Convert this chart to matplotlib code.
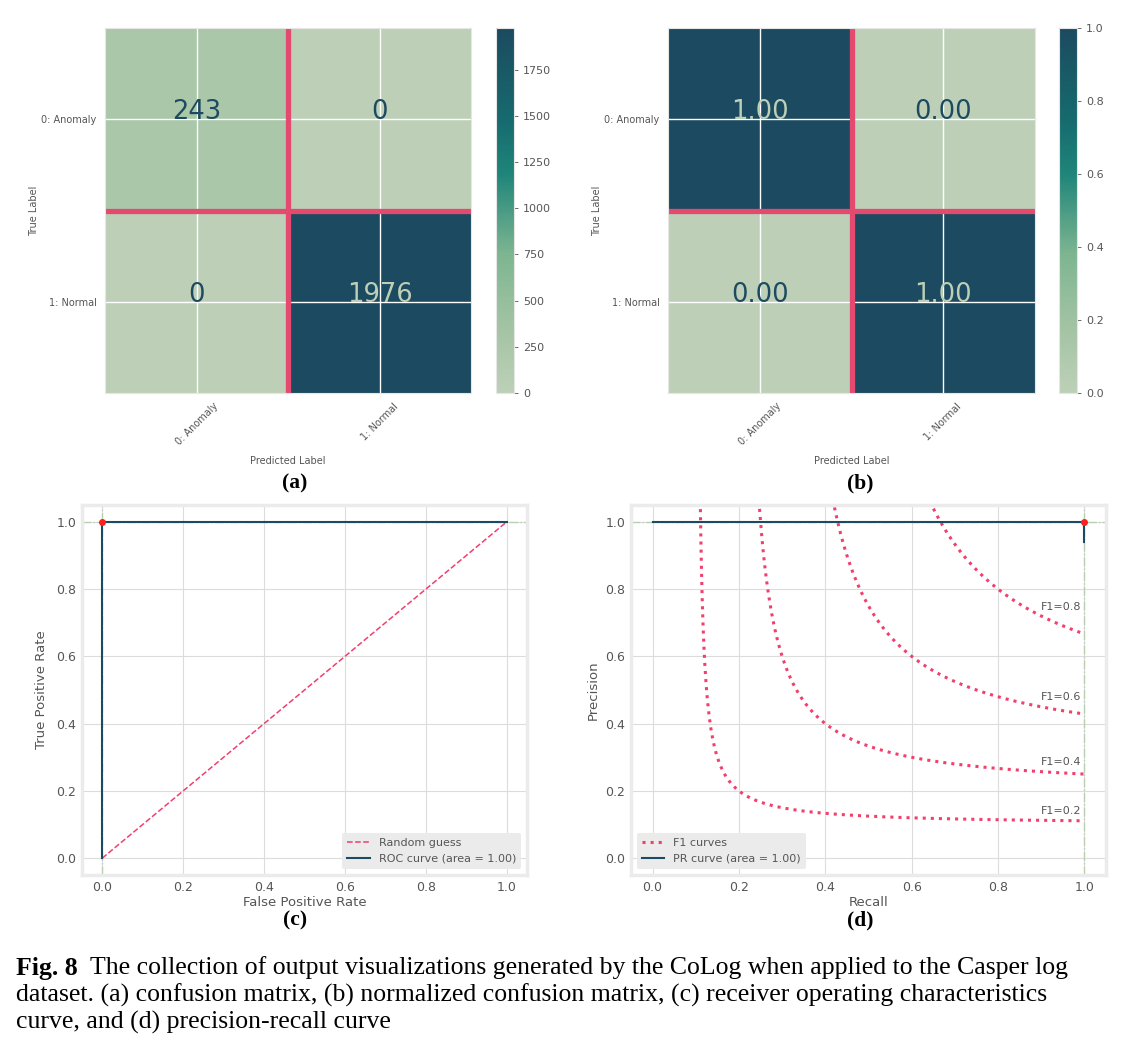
import matplotlib
matplotlib.use("Agg")
import matplotlib.pyplot as plt
import numpy as np
from matplotlib.colors import LinearSegmentedColormap

# values
classes = ["0: Anomaly", "1: Normal"]
cm_counts = np.array([[243, 0], [0, 1976]])
cm_norm = np.array([[1.00, 0.00], [0.00, 1.00]])
count_ticks = [0, 250, 500, 750, 1000, 1250, 1500, 1750]
norm_ticks = [0.0, 0.2, 0.4, 0.6, 0.8, 1.0]

roc_fpr = [0.0, 0.0, 1.0]
roc_tpr = [0.0, 1.0, 1.0]
roc_auc = 1.00
chance = [0.0, 1.0]

pr_recall = [0.0, 1.0, 1.0]
pr_precision = [1.0, 1.0, 0.94]
pr_auc = 1.00
f1_levels = [0.2, 0.4, 0.6, 0.8]

DARK = "#1c4a60"
LIGHT = "#bdd0b7"
RED = "#e4496f"
PINK = "#f23f6d"
GREEN = "#b7d0b0"
GREY = "#555555"

cmap = LinearSegmentedColormap.from_list(
    "colog", [(0.0, LIGHT), (0.2, "#9fc2a1"), (0.38, "#7db591"),
              (0.6, "#1f8579"), (0.75, "#166a6e"), (1.0, DARK)])

W, H = 1143, 1059
fig = plt.figure(figsize=(W / 100, H / 100), dpi=100)


def px_axes(l, t, r, b):
    return fig.add_axes([l / W, 1 - b / H, (r - l) / W, (b - t) / H])


def draw_cm(box, cbox, mat, fmt, ticks):
    ax = px_axes(*box)
    im = ax.imshow(mat, cmap=cmap, aspect="auto", vmin=0, vmax=mat.max())
    thresh = mat.max() / 2
    for i in range(mat.shape[0]):
        for j in range(mat.shape[1]):
            ax.text(j, i, format(mat[i, j], fmt), ha="center", va="baseline",
                    fontsize=18.5, color=LIGHT if mat[i, j] > thresh else DARK)
    ax.set_xticks(range(len(classes)))
    ax.set_yticks(range(len(classes)))
    ax.set_xticklabels(classes, rotation=45, fontsize=7, color=GREY)
    ax.set_yticklabels(classes, fontsize=7, color=GREY)
    ax.tick_params(length=0, pad=6)
    ax.grid(True, color="white", lw=1)
    ax.axvline(0.5, color=RED, lw=3.8)
    ax.axhline(0.5, color=RED, lw=3.8)
    ax.set_xlabel("Predicted Label", fontsize=7, color=GREY, labelpad=6)
    ax.set_ylabel("True Label", fontsize=7, color=GREY, labelpad=2)
    for s in ax.spines.values():
        s.set_color("#e6e6e6")
    cax = px_axes(*cbox)
    cb = fig.colorbar(im, cax=cax, ticks=ticks)
    cb.outline.set_edgecolor("#e6e6e6")
    cax.tick_params(labelsize=8, colors=GREY, length=3, width=0.6)
    return ax


def style_curve_axes(ax):
    ax.set_xlim(-0.05, 1.05)
    ax.set_ylim(-0.05, 1.05)
    ax.set_xticks(norm_ticks)
    ax.set_yticks(norm_ticks)
    ax.grid(True, color="#dcdcdc", lw=0.8)
    ax.set_axisbelow(True)
    ax.tick_params(length=0, labelsize=9, colors=GREY, pad=4)
    for s in ax.spines.values():
        s.set_color("#ebebeb")
        s.set_linewidth(2.5)


# (a) confusion matrix
draw_cm((105, 28, 471, 393), (496, 28, 514, 393), cm_counts, "d", count_ticks)
# (b) normalized confusion matrix
draw_cm((668, 28, 1035, 393), (1059, 28, 1077, 393), cm_norm, ".2f", norm_ticks)

# (c) ROC curve
ax = px_axes(82, 505, 527, 875)
style_curve_axes(ax)
ax.axvline(0, color=GREEN, ls="-.", lw=1)
ax.axhline(1, color=GREEN, ls="-.", lw=1)
ax.plot(chance, chance, ls="--", color=PINK, lw=1.1, label="Random guess")
ax.plot(roc_fpr, roc_tpr, color=DARK, lw=1.5,
        label=f"ROC curve (area = {roc_auc:.2f})")
ax.plot(roc_fpr[1], roc_tpr[1], "o", color="#ff2020", ms=4, zorder=5)
ax.set_xlabel("False Positive Rate", fontsize=9.5, color=GREY, labelpad=2)
ax.set_ylabel("True Positive Rate", fontsize=9.5, color=GREY, labelpad=6)
leg = ax.legend(loc="lower right", fontsize=8, facecolor="#ebebeb",
                edgecolor="none", framealpha=1, borderpad=0.5)
for t in leg.get_texts():
    t.set_color(GREY)

# (d) precision-recall curve with iso-F1 guide curves
ax = px_axes(631, 505, 1106, 875)
style_curve_axes(ax)
ax.axvline(1, color=GREEN, ls="-.", lw=1)
ax.axhline(1, color=GREEN, ls="-.", lw=1)
for k, f in enumerate(f1_levels):
    x = np.linspace(0.01, 1, 500)
    y = f * x / (2 * x - f)
    ok = y >= 0
    ax.plot(x[ok], y[ok], ls=":", color=PINK, lw=2.2,
            label="F1 curves" if k == 0 else None)
    ax.annotate(f"F1={f:0.1f}", xy=(0.9, y[450] + 0.02), fontsize=8, color=GREY)
ax.plot(pr_recall, pr_precision, color=DARK, lw=1.5,
        label=f"PR curve (area = {pr_auc:.2f})")
ax.plot(pr_recall[1], pr_precision[1], "o", color="#ff2020", ms=4, zorder=5)
ax.set_xlabel("Recall", fontsize=9.5, color=GREY, labelpad=2)
ax.set_ylabel("Precision", fontsize=9.5, color=GREY)
leg = ax.legend(loc="lower left", fontsize=8, facecolor="#ebebeb",
                edgecolor="none", framealpha=1, borderpad=0.5)
for t in leg.get_texts():
    t.set_color(GREY)

# sub-captions
for lab, (px, py) in zip(["(a)", "(b)", "(c)", "(d)"],
                         [(295, 483), (860, 483), (295, 920), (860, 920)]):
    fig.text(px / W, 1 - py / H, lab, ha="center", va="center",
             fontsize=15.5, fontweight="bold", family="Liberation Serif")

# figure caption
serif = dict(fontsize=18.5, family="Liberation Serif", va="center")
fig_lab = fig.text(16 / W, 1 - 968 / H, "Fig. 8", fontweight="bold", **serif)
bb = fig_lab.get_window_extent(fig.canvas.get_renderer())
fig.text((bb.x1 + 12) / W, 1 - 968 / H,
         "The collection of output visualizations generated by the CoLog "
         "when applied to the Casper log", **serif)
fig.text(16 / W, 1 - 995 / H,
         "dataset. (a) confusion matrix, (b) normalized confusion matrix, "
         "(c) receiver operating characteristics", **serif)
fig.text(16 / W, 1 - 1022 / H, "curve, and (d) precision-recall curve", **serif)

fig.savefig("out.png", dpi=100)
